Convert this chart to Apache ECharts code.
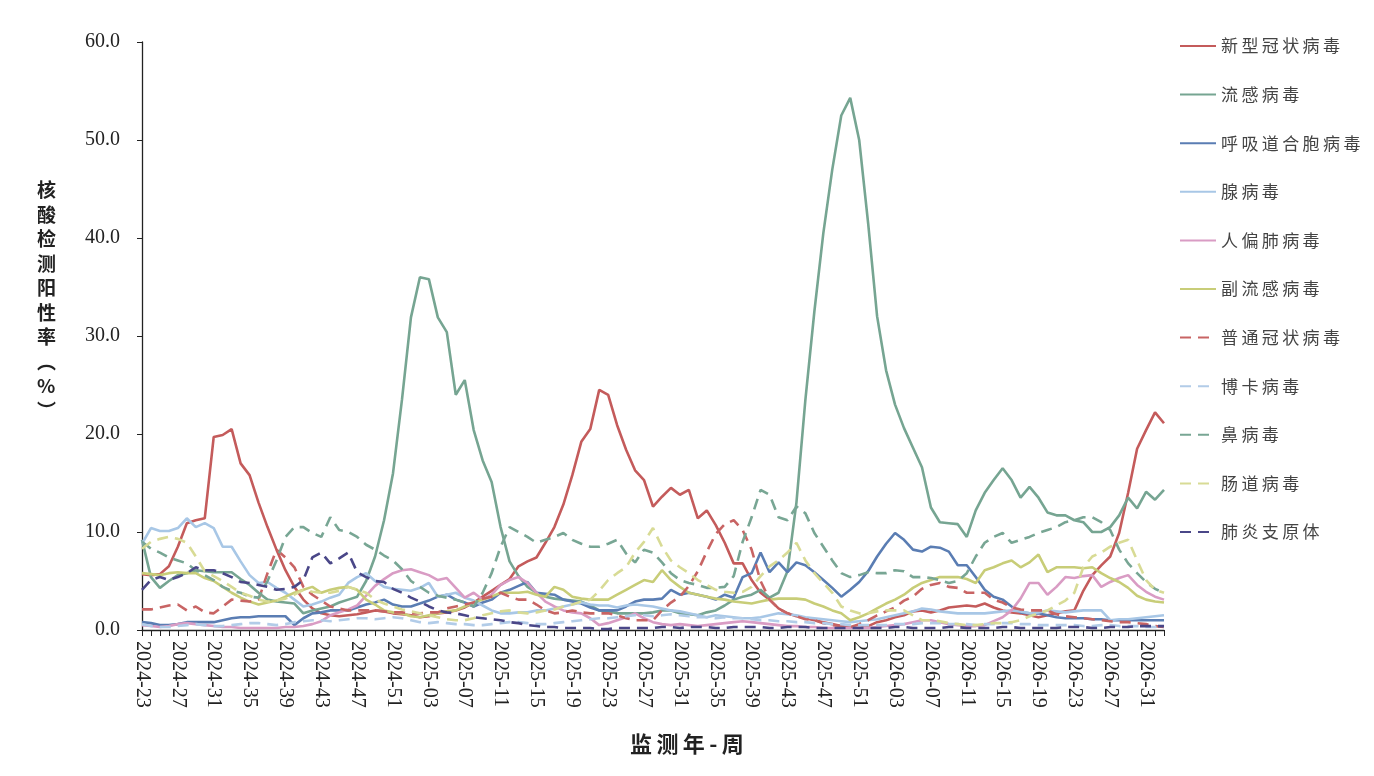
<!DOCTYPE html>
<html>
<head>
	<meta charset="utf-8">
	<title>核酸检测阳性率</title>
	<style>
		body { margin: 0; background: #fff; }
	</style>
</head>

<body>
	<div style="width:1374px;height:776px;" id="chart1"></div>

	<script src="https://cdn.jsdelivr.net/npm/echarts/dist/echarts.min.js"></script>
	<script>

	// 监测周: 2024-23 ~ 2026-33
	function weeks(year, from, to) {
		var list = [];
		for (var w = from; w <= to; w++) {
			list.push(year + '-' + (w < 10 ? '0' + w : w));
		}
		return list;
	}
	var weekLabels = weeks(2024, 23, 52).concat(weeks(2025, 1, 52), weeks(2026, 1, 33));

	// 各病原体阳性率 (%)
	var covid = [
		5.7, 5.6, 5.7, 6.5, 8.5, 10.9, 11.2, 11.4, 19.7, 19.9,
		20.5, 17.0, 15.8, 13.0, 10.5, 8.2, 6.1, 4.4, 3.1, 2.2,
		1.7, 1.5, 1.4, 1.5, 1.6, 1.8, 2.0, 1.9, 1.7, 1.6,
		1.5, 1.3, 1.4, 1.7, 1.8, 2.0, 2.3, 2.8, 3.4, 4.0,
		4.6, 5.2, 6.5, 7.0, 7.4, 8.9, 10.5, 12.8, 15.8, 19.2,
		20.5, 24.5, 24.0, 20.9, 18.4, 16.3, 15.3, 12.6, 13.6, 14.5,
		13.8, 14.3, 11.4, 12.2, 10.7, 8.9, 6.8, 6.8, 5.1, 3.8,
		3.1, 2.2, 1.7, 1.4, 1.2, 1.0, 0.8, 0.6, 0.4, 0.3,
		0.2, 0.4, 0.8, 1.0, 1.3, 1.5, 1.9, 2.0, 1.8, 2.0,
		2.3, 2.4, 2.5, 2.4, 2.7, 2.3, 2.0, 1.8, 1.7, 1.5,
		1.3, 1.5, 1.7, 1.9, 2.0, 4.0, 5.6, 6.6, 7.5, 9.9,
		14.0, 18.5, 20.4, 22.2, 21.1
	];
	var flu = [
		9.2, 5.4, 4.3, 5.0, 5.6, 5.8, 6.1, 6.0, 5.9, 5.9,
		5.9, 5.2, 4.6, 3.8, 3.1, 2.9, 2.8, 2.7, 1.7, 2.0,
		2.2, 2.4, 2.8, 3.1, 3.4, 5.0, 7.5, 11.2, 16.0, 23.5,
		31.9, 36.0, 35.8, 31.9, 30.4, 24.0, 25.5, 20.4, 17.3, 15.1,
		10.5, 7.0, 5.5, 4.4, 3.8, 3.4, 3.2, 3.1, 3.0, 2.9,
		2.5, 2.0, 1.9, 1.7, 1.7, 1.7, 1.7, 1.8, 2.0, 2.0,
		1.7, 1.6, 1.5, 1.8, 2.0, 2.5, 3.1, 3.4, 3.6, 4.1,
		3.3, 3.8, 6.0, 13.0, 23.5, 32.5, 40.5, 47.0, 52.5, 54.3,
		50.0, 41.5, 32.0, 26.5, 23.0, 20.6, 18.6, 16.6, 12.5, 11.0,
		10.9, 10.8, 9.5, 12.2, 14.0, 15.3, 16.5, 15.3, 13.5, 14.6,
		13.5, 12.0, 11.7, 11.7, 11.2, 11.0, 10.0, 10.0, 10.5, 11.7,
		13.5, 12.4, 14.1, 13.3, 14.3
	];
	var rsv = [
		0.8, 0.7, 0.5, 0.5, 0.6, 0.8, 0.8, 0.8, 0.8, 1.0,
		1.2, 1.3, 1.3, 1.4, 1.4, 1.4, 1.4, 0.5, 1.2, 1.7,
		1.8, 2.0, 2.0, 2.0, 2.3, 2.6, 2.8, 3.1, 2.6, 2.4,
		2.4, 2.7, 3.0, 3.4, 3.6, 3.1, 2.8, 2.4, 2.8, 3.1,
		3.8, 4.1, 4.5, 4.9, 3.8, 3.7, 3.6, 3.1, 2.9, 2.7,
		2.3, 2.0, 2.0, 2.0, 2.4, 2.9, 3.1, 3.1, 3.2, 4.1,
		3.6, 3.8, 3.6, 3.4, 3.1, 3.6, 3.3, 5.4, 5.8, 7.9,
		5.9, 6.9, 5.9, 6.9, 6.6, 5.9, 5.1, 4.3, 3.4, 4.1,
		4.9, 6.0, 7.5, 8.8, 9.9, 9.2, 8.2, 8.0, 8.5, 8.4,
		8.0, 6.6, 6.6, 5.4, 4.1, 3.4, 3.1, 2.4, 1.8, 1.7,
		1.7, 1.5, 1.3, 1.2, 1.2, 1.2, 1.1, 1.1, 1.0, 1.0,
		1.0, 1.0, 1.0, 1.0, 1.0
	];
	var adeno = [
		8.8, 10.4, 10.1, 10.1, 10.4, 11.4, 10.5, 10.9, 10.4, 8.5,
		8.5, 7.0, 5.6, 4.8, 4.9, 4.3, 3.8, 3.1, 2.4, 2.6,
		2.9, 3.3, 3.6, 4.8, 5.4, 5.8, 5.0, 4.4, 4.2, 4.1,
		4.0, 4.3, 4.8, 3.4, 3.6, 3.8, 3.3, 3.0, 2.5, 2.0,
		1.7, 1.7, 1.8, 1.8, 2.0, 2.0, 2.2, 2.4, 2.6, 2.8,
		2.6, 2.5, 2.5, 2.3, 2.5, 2.6, 2.5, 2.4, 2.2, 2.0,
		1.9, 1.7, 1.5, 1.3, 1.5, 1.4, 1.3, 1.2, 1.2, 1.3,
		1.5, 1.7, 1.6, 1.5, 1.3, 1.2, 1.1, 1.0, 0.9, 0.8,
		0.9, 1.0, 1.1, 1.3, 1.5, 1.7, 1.9, 2.2, 2.1, 1.9,
		1.8, 1.7, 1.7, 1.7, 1.7, 1.8, 1.9, 2.0, 1.9, 1.7,
		1.8, 2.0, 1.9, 1.8, 1.9, 2.0, 2.0, 2.0, 1.0, 1.1,
		1.1, 1.2, 1.3, 1.4, 1.5
	];
	var hmpv = [
		0.5, 0.4, 0.3, 0.4, 0.6, 0.7, 0.6, 0.5, 0.4, 0.3,
		0.3, 0.2, 0.2, 0.2, 0.2, 0.2, 0.3, 0.3, 0.4, 0.6,
		0.9, 1.5, 1.8, 2.1, 2.5, 3.5, 4.5, 5.2, 5.8, 6.1,
		6.2, 5.9, 5.6, 5.1, 5.3, 4.3, 3.3, 3.8, 3.1, 3.6,
		4.6, 5.1, 5.4, 4.8, 3.8, 2.9, 2.4, 2.0, 1.8, 1.7,
		1.2, 0.5, 0.7, 1.0, 1.3, 1.7, 1.2, 0.8, 0.6, 0.5,
		0.6, 0.5, 0.4, 0.5, 0.6, 0.7, 0.8, 0.9, 0.8, 0.7,
		0.6, 0.5, 0.4, 0.4, 0.3, 0.3, 0.2, 0.2, 0.2, 0.2,
		0.2, 0.2, 0.3, 0.4, 0.5, 0.6, 0.8, 1.0, 1.0, 0.8,
		0.6, 0.5, 0.4, 0.4, 0.5, 0.9, 1.3, 2.0, 3.2, 4.8,
		4.8, 3.6, 4.4, 5.4, 5.3, 5.5, 5.6, 4.4, 4.9, 5.3,
		5.6, 4.6, 3.9, 3.4, 3.1
	];
	var paraflu = [
		5.8, 5.7, 5.6, 5.8, 5.9, 5.8, 5.8, 5.3, 5.0, 4.4,
		3.8, 3.3, 2.9, 2.6, 2.8, 3.0, 3.4, 3.8, 4.1, 4.4,
		3.8, 4.1, 4.3, 4.4, 4.1, 3.1, 2.6, 2.0, 1.8, 1.7,
		1.4, 1.3, 1.5, 1.7, 1.9, 2.0, 2.4, 2.8, 3.1, 3.4,
		3.8, 3.8, 3.8, 3.9, 3.6, 3.4, 4.4, 4.1, 3.4, 3.2,
		3.1, 3.1, 3.1, 3.6, 4.1, 4.6, 5.1, 4.9, 6.1, 5.1,
		4.4, 3.8, 3.6, 3.4, 3.2, 3.1, 2.9, 2.8, 2.7, 2.9,
		3.1, 3.2, 3.2, 3.2, 3.1, 2.7, 2.4, 2.0, 1.7, 1.0,
		1.3, 1.7, 2.2, 2.7, 3.1, 3.6, 4.3, 4.8, 5.1, 5.4,
		5.4, 5.4, 5.2, 4.8, 6.1, 6.4, 6.8, 7.1, 6.4, 6.9,
		7.7, 5.9, 6.4, 6.4, 6.4, 6.3, 6.4, 5.8, 5.3, 4.9,
		4.3, 3.5, 3.1, 2.9, 2.8
	];
	var hcov = [
		2.1, 2.1, 2.3, 2.5, 2.6, 2.0, 2.4, 1.8, 1.7, 2.4,
		3.1, 3.0, 2.9, 3.1, 5.8, 8.2, 7.4, 6.4, 4.4, 3.6,
		3.0, 2.4, 2.2, 2.0, 2.0, 2.0, 2.0, 1.9, 1.8, 1.8,
		1.7, 1.7, 1.8, 1.8, 2.2, 2.4, 2.6, 2.8, 3.2, 3.4,
		3.8, 3.4, 3.1, 3.1, 2.6, 2.0, 1.7, 1.8, 2.0, 1.8,
		1.7, 1.7, 1.7, 1.5, 1.2, 1.0, 1.0, 1.0, 2.0, 2.8,
		3.4, 4.5, 6.0, 8.0, 9.8, 10.8, 11.2, 10.2, 8.2, 5.0,
		3.1, 2.2, 1.7, 1.4, 1.1, 1.0, 0.7, 0.5, 0.4, 0.3,
		0.6, 1.0, 1.5, 1.9, 2.3, 3.0, 3.4, 4.2, 4.6, 4.8,
		4.4, 4.3, 3.8, 3.8, 3.8, 3.1, 2.8, 2.3, 2.1, 2.0,
		2.0, 2.0, 1.6, 1.4, 1.3, 1.2, 1.1, 1.0, 0.9, 0.8,
		0.8, 0.7, 0.6, 0.4, 0.3
	];
	var boca = [
		0.6, 0.4, 0.3, 0.3, 0.4, 0.5, 0.6, 0.5, 0.4, 0.4,
		0.5, 0.6, 0.7, 0.7, 0.6, 0.5, 0.6, 0.8, 0.9, 1.0,
		1.0, 0.9, 1.0, 1.1, 1.2, 1.2, 1.1, 1.2, 1.3, 1.2,
		1.0, 0.8, 0.7, 0.8, 0.7, 0.6, 0.6, 0.5, 0.5, 0.6,
		0.7, 0.8, 0.8, 0.7, 0.6, 0.6, 0.7, 0.8, 0.9, 1.0,
		1.1, 1.2, 1.2, 1.3, 1.4, 1.5, 1.5, 1.4, 1.5, 1.6,
		1.5, 1.4, 1.3, 1.3, 1.2, 1.3, 1.2, 1.2, 1.1, 1.0,
		1.0, 0.9, 0.9, 0.8, 0.8, 0.7, 0.7, 0.6, 0.6, 0.5,
		0.5, 0.5, 0.5, 0.5, 0.6, 0.6, 0.6, 0.7, 0.7, 0.7,
		0.6, 0.6, 0.6, 0.5, 0.6, 0.6, 0.7, 0.7, 0.6, 0.6,
		0.5, 0.5, 0.5, 0.5, 0.5, 0.4, 0.4, 0.5, 0.5, 0.4,
		0.4, 0.4, 0.3, 0.3, 0.3
	];
	var rhino = [
		9.0, 8.3, 7.9, 7.4, 7.1, 6.8, 6.1, 5.6, 5.1, 4.4,
		4.0, 3.8, 3.4, 3.3, 5.0, 7.1, 9.5, 10.5, 10.5, 9.9,
		9.5, 11.5, 10.2, 10.0, 9.5, 8.7, 8.2, 7.6, 7.1, 6.2,
		5.0, 4.4, 3.8, 3.5, 3.3, 3.1, 2.8, 2.4, 3.8, 5.8,
		8.5, 10.5, 10.0, 9.5, 8.9, 9.2, 9.5, 9.9, 9.2, 8.8,
		8.5, 8.5, 8.8, 9.2, 7.8, 6.9, 8.2, 7.9, 6.9, 5.8,
		5.1, 4.8, 4.6, 4.3, 4.3, 4.4, 5.5, 9.0, 11.5, 14.3,
		13.8, 11.5, 11.2, 12.6, 11.9, 9.9, 8.5, 7.1, 5.8, 5.4,
		5.6, 5.9, 5.8, 5.8, 6.1, 6.0, 5.4, 5.4, 5.3, 5.1,
		4.8, 5.0, 5.8, 7.5, 8.9, 9.5, 9.9, 8.9, 9.2, 9.5,
		9.9, 10.2, 10.5, 11.0, 11.2, 11.5, 11.5, 11.0, 10.2, 8.2,
		6.8, 5.8, 4.9, 4.2, 3.8
	];
	var entero = [
		8.3, 9.0, 9.3, 9.5, 9.3, 8.9, 7.5, 6.0, 5.5, 5.0,
		4.4, 3.8, 3.5, 3.1, 2.9, 3.0, 3.2, 3.6, 4.1, 3.9,
		3.8, 3.8, 4.0, 4.4, 4.1, 3.8, 3.1, 2.7, 2.4, 2.1,
		1.9, 1.7, 1.5, 1.3, 1.1, 1.0, 1.0, 1.2, 1.5, 1.7,
		1.9, 2.0, 1.8, 1.7, 1.8, 2.0, 2.1, 2.4, 2.6, 2.9,
		3.1, 4.0, 5.1, 5.8, 6.4, 7.9, 9.0, 10.4, 8.5, 7.1,
		6.4, 5.8, 5.1, 4.6, 4.1, 3.9, 3.8, 3.9, 4.4, 5.5,
		6.5, 7.1, 7.9, 8.9, 7.1, 5.8, 4.8, 3.8, 2.4, 2.0,
		1.7, 1.7, 1.9, 2.0, 2.0, 2.0, 1.5, 1.0, 1.0, 0.9,
		0.7, 0.6, 0.5, 0.5, 0.6, 0.7, 0.7, 0.8, 1.0, 1.4,
		1.7, 2.0, 2.5, 3.0, 3.8, 6.4, 7.5, 7.9, 8.5, 8.9,
		9.2, 7.1, 5.1, 4.1, 3.8
	];
	var myco = [
		4.1, 5.1, 5.4, 5.1, 5.4, 5.8, 6.4, 6.1, 6.1, 5.8,
		5.4, 4.9, 4.8, 4.6, 4.4, 4.1, 4.2, 4.4, 5.1, 7.4,
		7.9, 6.8, 7.3, 7.9, 5.9, 5.4, 5.0, 4.9, 4.2, 3.8,
		3.3, 2.9, 2.4, 2.0, 1.8, 1.7, 1.5, 1.3, 1.2, 1.1,
		1.0, 0.8, 0.7, 0.5, 0.4, 0.3, 0.3, 0.2, 0.2, 0.2,
		0.2, 0.1, 0.1, 0.2, 0.2, 0.2, 0.2, 0.2, 0.3, 0.3,
		0.2, 0.3, 0.3, 0.3, 0.2, 0.2, 0.3, 0.3, 0.3, 0.3,
		0.2, 0.2, 0.3, 0.3, 0.3, 0.2, 0.2, 0.2, 0.2, 0.2,
		0.2, 0.2, 0.2, 0.2, 0.3, 0.3, 0.2, 0.2, 0.2, 0.2,
		0.3, 0.3, 0.2, 0.2, 0.2, 0.2, 0.3, 0.3, 0.2, 0.2,
		0.2, 0.2, 0.2, 0.3, 0.3, 0.3, 0.2, 0.2, 0.3, 0.3,
		0.3, 0.4, 0.4, 0.4, 0.4
	];

	var seriesNames = ['新型冠状病毒', '流感病毒', '呼吸道合胞病毒', '腺病毒', '人偏肺病毒', '副流感病毒',
		'普通冠状病毒', '博卡病毒', '鼻病毒', '肠道病毒', '肺炎支原体'];
	var seriesData = [covid, flu, rsv, adeno, hmpv, paraflu, hcov, boca, rhino, entero, myco];
	var seriesColors = ['#c45b5b', '#76a592', '#5a7db3', '#a8c7e6', '#d99cc4', '#c8cd78',
		'#c86464', '#b2cce8', '#78a694', '#d8db95', '#4a4788'];
	var dashed = [false, false, false, false, false, false, true, true, true, true, true];

	var series = [];
	for (var i = 0; i < seriesNames.length; i++) {
		series.push({
			name: seriesNames[i],
			type: 'line',
			data: seriesData[i],
			symbol: 'none',
			showSymbol: false,
			smooth: false,
			lineStyle: {
				color: seriesColors[i],
				width: 2.6,
				type: dashed[i] ? [11, 7] : 'solid'
			},
			itemStyle: { color: seriesColors[i] }
		});
	}

	var myChart = echarts.init(document.getElementById('chart1'));

	var option = {
		animation: false,
		backgroundColor: '#fff',
		grid: { left: 142, right: 210, top: 42, bottom: 146 },
		legend: {
			orient: 'vertical',
			left: 1174,
			top: 31,
			itemWidth: 36,
			itemHeight: 12,
			itemGap: 28.6,
			data: seriesNames,
			itemStyle: { opacity: 0 },
			formatter: function(name) {
				return name.split('').join('\u2009');
			},
			textStyle: {
				fontFamily: 'Noto Sans CJK SC',
				fontSize: 17,
				lineHeight: 20,
				color: '#444'
			}
		},
		xAxis: {
			type: 'category',
			data: weekLabels,
			boundaryGap: false,
			axisLine: { lineStyle: { color: '#222', width: 1.3 } },
			axisTick: { interval: 0, length: 6, lineStyle: { color: '#222' } },
			axisLabel: {
				interval: 3,
				rotate: -90,
				margin: 11,
				fontFamily: 'Liberation Serif',
				fontSize: 20,
				color: '#222'
			},
			splitLine: { show: false }
		},
		yAxis: {
			type: 'value',
			min: 0,
			max: 60,
			interval: 10,
			axisLine: { show: true, lineStyle: { color: '#222', width: 1.3 } },
			axisTick: { show: true, length: 5, lineStyle: { color: '#222' } },
			axisLabel: {
				margin: 22,
				fontFamily: 'Liberation Serif',
				fontSize: 20,
				color: '#222',
				formatter: function(v) { return v.toFixed(1); }
			},
			splitLine: { show: false }
		},
		graphic: [
			{
				type: 'text',
				left: 37,
				top: 178,
				style: {
					text: '核\n酸\n检\n测\n阳\n性\n率\n︵\n%\n︶',
					font: 'bold 19px "Noto Sans CJK SC"',
					lineHeight: 24.5,
					fill: '#222',
					align: 'center'
				}
			},
			{
				type: 'text',
				left: 630,
				top: 733,
				style: {
					text: '监\u2009测\u2009年\u2009-\u2009周',
					font: 'bold 22px "Noto Sans CJK SC"',
					fill: '#222'
				}
			}
		],
		series: series
	};

	myChart.setOption(option);

	</script>
</body>

</html>
